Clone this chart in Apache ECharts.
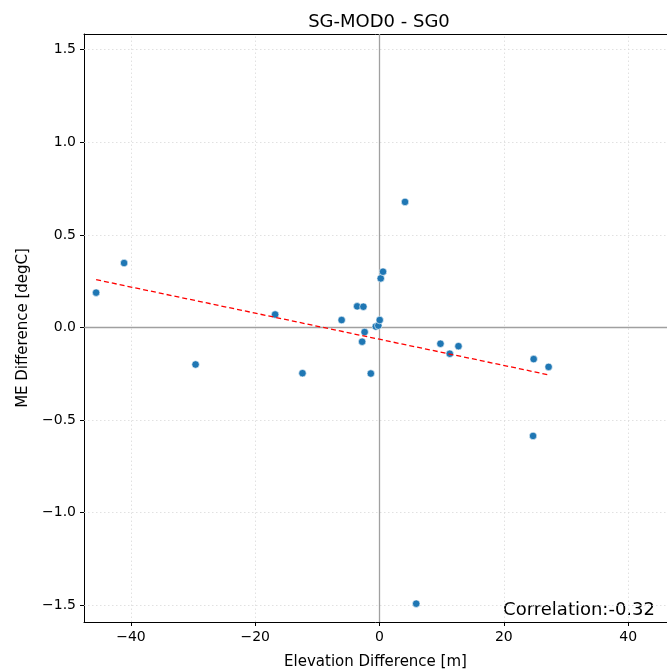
<!DOCTYPE html>
<html><head><meta charset="utf-8">
<script src="https://cdn.jsdelivr.net/npm/echarts@6/dist/echarts.min.js"></script>
<style>html,body{margin:0;padding:0;background:#fff}#c{width:667px;height:670px}</style>
</head><body><div id="c"></div>
<script>
const elevDiff = [-45.6, -41.1, -29.6, -16.8, -12.4, -6.1, -3.6, -2.6, -2.4, -2.8, -1.4, -0.6, -0.2, 0.03, 0.19, 0.56, 4.1, 9.8, 11.3, 12.7, 24.8, 27.2, 24.7, 5.9];
const meDiff   = [0.188, 0.348, -0.200, 0.070, -0.247, 0.040, 0.114, 0.112, -0.025, -0.077, -0.249, 0.005, 0.010, 0.040, 0.265, 0.301, 0.678, -0.088, -0.142, -0.101, -0.171, -0.213, -0.586, -1.492];
const fitX = [-45.6, 27.2];
const fitY = [0.258, -0.256];
const xTicks = [-40, -20, 0, 20, 40];
const yTicks = [-1.5, -1.0, -0.5, 0.0, 0.5, 1.0, 1.5];
const titleText = 'SG-MOD0 - SG0';
const corrText = 'Correlation:-0.32';

const font = 'DejaVu Sans';
const fmtX = v => String(v).replace('-', '\u2212');
const fmtY = v => Number(v).toFixed(1).replace('-', '\u2212');

const chart = echarts.init(document.getElementById('c'), null, {renderer: 'canvas'});
const pts = elevDiff.map((x, i) => [x, meDiff[i]]);
const gridStyle = {color: '#d9d9d9', type: [1.5, 2.5], width: 0.8};
const X_MIN = -47.55, X_MAX = 46.25;
chart.setOption({
  animation: false,
  backgroundColor: '#fff',
  title: {text: titleText, left: 374, top: 8, textAlign: 'center',
    textStyle: {fontFamily: font, fontSize: 18, fontWeight: 'normal', color: '#000'}},
  grid: {left: 84, top: 34, right: 0, bottom: 48, show: false, containLabel: false, outerBoundsMode: 'none'},
  xAxis: [{type: 'value', min: X_MIN, max: X_MAX,
    name: 'Elevation Difference [m]', nameLocation: 'middle', nameGap: 33,
    nameTextStyle: {fontFamily: font, fontSize: 15, color: '#000'},
    axisLine: {show: true, onZero: false, lineStyle: {color: '#000'}},
    axisTick: {show: true, customValues: xTicks, length: 4, lineStyle: {color: '#000'}},
    axisLabel: {customValues: xTicks, formatter: fmtX, fontFamily: font, fontSize: 14, color: '#000', margin: 8},
    splitLine: {show: false}},
    {type: 'value', position: 'top', min: X_MIN, max: X_MAX,
    axisLine: {show: true, onZero: false, lineStyle: {color: '#000'}},
    axisTick: {show: false}, axisLabel: {show: false}, splitLine: {show: false}}],
  yAxis: {type: 'value', min: -1.591, max: 1.585,
    name: 'ME Difference [degC]', nameLocation: 'middle', nameGap: 53, nameRotate: 90,
    nameTextStyle: {fontFamily: font, fontSize: 15, color: '#000'},
    axisLine: {show: true, onZero: false, lineStyle: {color: '#000'}},
    axisTick: {show: true, customValues: yTicks, length: 4, lineStyle: {color: '#000'}},
    axisLabel: {customValues: yTicks, formatter: fmtY, fontFamily: font, fontSize: 14, color: '#000', margin: 8},
    splitLine: {show: false}},
  series: [
    {type: 'line', data: [], silent: true,
      markLine: {symbol: 'none', silent: true, label: {show: false}, lineStyle: gridStyle,
        data: xTicks.map(v => ({xAxis: v})).concat(yTicks.map(v => ({yAxis: v})))}},
    {type: 'line', data: [], silent: true,
      markLine: {symbol: 'none', silent: true, label: {show: false}, lineStyle: {color: '#a0a0a0', type: 'solid', width: 1.3},
        data: [{xAxis: 0}, {yAxis: 0}]}},
    {type: 'scatter', data: pts, symbolSize: 7.5, z: 5,
      itemStyle: {color: '#1f77b4', borderColor: '#fff', borderWidth: 0.6, opacity: 1}},
    {type: 'line', data: fitX.map((x, i) => [x, fitY[i]]), symbol: 'none', z: 6,
      lineStyle: {color: '#ff0000', type: [5, 3], width: 1.3}}
  ],
  graphic: [{type: 'text', right: 12, top: 601,
    style: {text: corrText, font: '18px "DejaVu Sans"', fill: '#000'}}]
});
</script></body></html>
